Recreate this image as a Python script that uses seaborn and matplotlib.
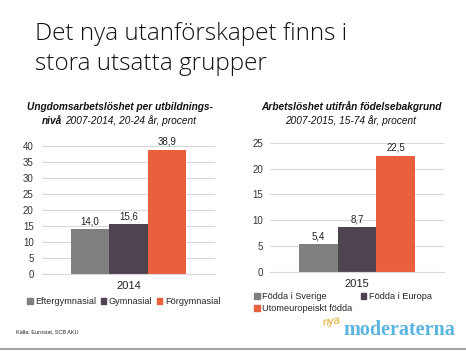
import pandas as pd
import matplotlib
matplotlib.use("Agg")
import matplotlib.pyplot as plt
from matplotlib.patches import Patch
from matplotlib.lines import Line2D
import seaborn as sns

# data
left_year = "2014"
left_groups = ["Eftergymnasial", "Gymnasial", "Förgymnasial"]
left_values = [14.0, 15.6, 38.9]

right_year = "2015"
right_groups = ["Födda i Sverige", "Födda i Europa", "Utomeuropeiskt födda"]
right_values = [5.4, 8.7, 22.5]

bar_colors = ["#7f7f7f", "#4e4450", "#e9603e"]

W, H = 466, 351

sns.set_style("white")
plt.rcParams["font.family"] = ["Liberation Sans", "DejaVu Sans"]


def px_axes(fig, x0, x1, y_top, y_bot):
    return fig.add_axes([x0 / W, 1 - y_bot / H, (x1 - x0) / W, (y_bot - y_top) / H])


def draw_panel(ax, year, groups, values, ymax, ypad):
    df = pd.DataFrame({"year": [year] * len(groups), "group": groups, "value": values})
    sns.barplot(data=df, x="year", y="value", hue="group", hue_order=groups,
                palette=bar_colors, width=0.665, ax=ax, legend=False,
                saturation=1, edgecolor="none")
    ax.set_ylim(0, ymax)
    ax.set_xlim(-0.5, 0.5)
    ax.set_yticks(range(0, ymax + 1, 5))
    ax.yaxis.grid(True, color="#d9d9d9", lw=0.8)
    ax.set_axisbelow(True)
    for s in ["top", "right", "left"]:
        ax.spines[s].set_visible(False)
    ax.spines["bottom"].set_color("#d9d9d9")
    ax.spines["bottom"].set_linewidth(0.8)
    ax.tick_params(axis="y", length=0, labelsize=7, labelcolor="#333333", pad=ypad)
    ax.tick_params(axis="x", length=0, labelsize=8, labelcolor="#222222", pad=5)
    ax.set_xlabel("")
    ax.set_ylabel("")
    for cont, v in zip(ax.containers, values):
        ax.bar_label(cont, labels=[f"{v:.1f}".replace(".", ",")], padding=2,
                     fontsize=7, color="#222222")


fig = plt.figure(figsize=(W / 100, H / 100), dpi=100)

# main heading
head_kw = dict(fontsize=17.5, family=["Open Sans", "DejaVu Sans"], weight="light",
               color="#111111", va="baseline")
fig.text(35 / W, 1 - 40 / H, "Det nya utanförskapet finns i", **head_kw)
fig.text(35 / W, 1 - 70 / H, "stora utsatta grupper", **head_kw)

# left panel
axl = px_axes(fig, 42, 215, 146, 274)
draw_panel(axl, left_year, left_groups, left_values, 40, 6)
fig.text(120 / W, 1 - 107 / H, "Ungdomsarbetslöshet per utbildnings-", ha="center",
         va="center", fontsize=7.3, weight="bold", style="italic", color="#111111")
fig.text(42 / W, 1 - 121 / H, "nivå", ha="left", va="center", fontsize=7.3,
         weight="bold", style="italic", color="#111111")
fig.text(65 / W, 1 - 121 / H, "2007-2014, 20-24 år, procent", ha="left", va="center",
         fontsize=7.3, style="italic", color="#111111")

# right panel
axr = px_axes(fig, 270, 444, 142.7, 272)
draw_panel(axr, right_year, right_groups, right_values, 25, 5)
fig.text(351 / W, 1 - 107 / H, "Arbetslöshet utifrån födelsebakgrund", ha="center",
         va="center", fontsize=7.3, weight="bold", style="italic", color="#111111")
fig.text(351 / W, 1 - 121 / H, "2007-2015, 15-74 år, procent", ha="center",
         va="center", fontsize=7.3, style="italic", color="#111111")

# legends
lh = [Patch(color=c) for c in bar_colors]
leg_kw = dict(frameon=False, fontsize=6.6, handlelength=0.6, handleheight=0.6,
              handletextpad=0.3, borderpad=0, borderaxespad=0)
fig.legend(lh, left_groups, loc="center left", bbox_to_anchor=(27 / W, 1 - 302 / H),
           ncol=3, columnspacing=0.45, **leg_kw)
fig.legend([lh[0], lh[2], lh[1]], [right_groups[0], right_groups[2], right_groups[1]],
           loc="upper left", bbox_to_anchor=(254 / W, 1 - 292 / H), ncol=2,
           columnspacing=0.9, labelspacing=0.35, **leg_kw)

# source + logo
fig.text(16 / W, 1 - 332 / H, "Källa: Eurostat, SCB AKU", fontsize=4, va="center",
         color="#222222")
fig.text(455 / W, 1 - 335 / H, "moderaterna", ha="right", va="baseline", fontsize=14.5,
         family="Liberation Serif", weight="bold", color="#5ab4e0")
fig.text(332 / W, 1 - 322 / H, "nya", ha="center", va="center", fontsize=8,
         style="italic", color="#e3a92a", rotation=10)

# bottom rule
fig.add_artist(Line2D([0, 1], [1 - 349 / H] * 2, color="#a6a6a6", lw=1.5))

fig.savefig("out.png", dpi=100)
